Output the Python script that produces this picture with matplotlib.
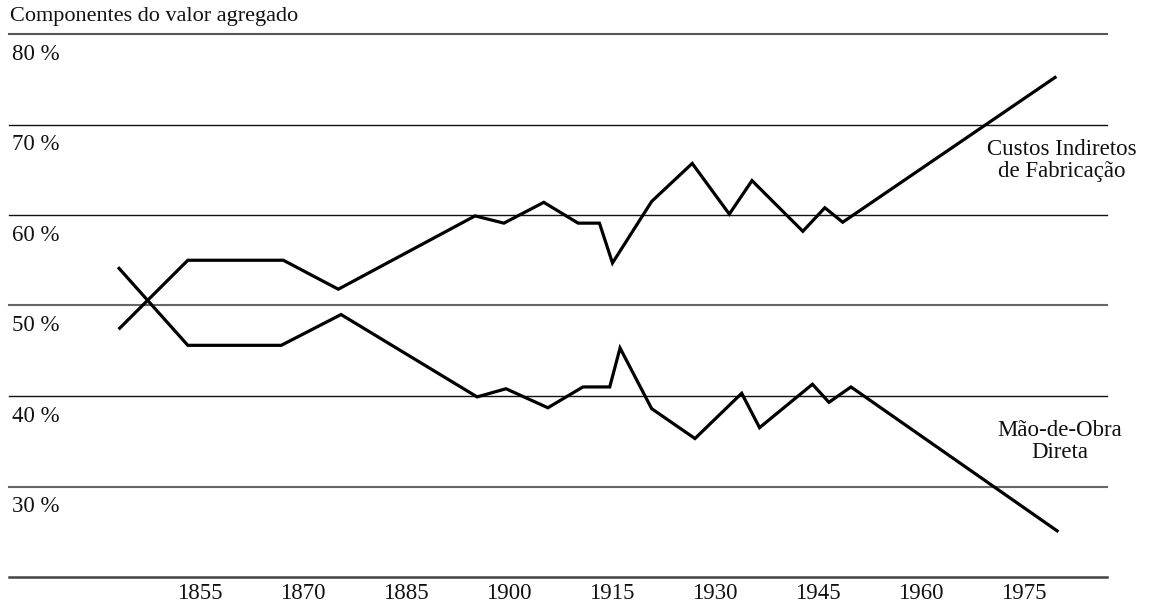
import matplotlib
matplotlib.use("Agg")
import matplotlib.pyplot as plt

# ---- data ----
years_cif = [1843.4, 1853.3, 1867.2, 1875.2, 1895.1, 1899.3, 1905.1, 1910.1, 1913.2,
             1915.1, 1920.8, 1926.7, 1932.1, 1935.4, 1942.8, 1946.0, 1948.6, 1979.5]
cif = [47.5, 55.0, 55.0, 51.8, 59.9, 59.1, 61.4, 59.1, 59.1,
       54.7, 61.5, 65.7, 60.1, 63.8, 58.2, 60.8, 59.2, 75.2]

years_mod = [1843.3, 1853.3, 1866.9, 1875.6, 1895.4, 1899.6, 1905.7, 1910.8, 1914.7,
             1916.2, 1920.8, 1927.1, 1933.9, 1936.5, 1944.2, 1946.6, 1949.8, 1979.8]
mod = [54.1, 45.6, 45.6, 49.0, 39.9, 40.8, 38.7, 41.0, 41.0,
       45.3, 38.6, 35.3, 40.3, 36.5, 41.3, 39.3, 41.0, 25.1]

x_ticks = [1855, 1870, 1885, 1900, 1915, 1930, 1945, 1960, 1975]
y_levels = [80, 70, 60, 50, 40, 30, 20]
y_labels = ["80 %", "70 %", "60 %", "50 %", "40 %", "30 %"]

title = "Componentes do valor agregado"
label_cif = "Custos Indiretos\nde Fabricação"
label_mod = "Mão-de-Obra\nDireta"

# ---- figure ----
W, H = 1154, 605
fig = plt.figure(figsize=(W / 100, H / 100), dpi=100)
plt.rcParams['font.family'] = ['Liberation Serif', 'DejaVu Serif']

left_px, right_px, top_px, bot_px = 9, 1107, 34, 577
ax = fig.add_axes([left_px / W, (H - bot_px) / H, (right_px - left_px) / W, (bot_px - top_px) / H])
ax.set_xlim(1827.28, 1987.06)
ax.set_ylim(20, 80)
for s in ax.spines.values():
    s.set_visible(False)
ax.set_yticks([])

# horizontal rules
line_styles = {80: ('#555555', 1.5), 70: ('#111111', 1.0), 60: ('#111111', 1.0),
               50: ('#666666', 1.5), 40: ('#111111', 1.0), 30: ('#666666', 1.5),
               20: ('#444444', 1.8)}
for v in y_levels:
    c, lw = line_styles[v]
    ax.axhline(v, color=c, lw=lw, clip_on=False, zorder=1)

# y labels, below each rule
for v, lab in zip(y_levels[:-1], y_labels):
    ax.text(1827.28 + 0.5, v - 2.85, lab, fontsize=16.5, va='baseline', ha='left',
            color='#111111')

# x tick labels
ax.set_xticks(x_ticks)
ax.set_xticklabels([str(t) for t in x_ticks], fontsize=16.5, color='#111111')
ax.tick_params(axis='x', length=0, pad=4.5)

# data lines
ax.plot(years_cif, cif, color='black', lw=2.3, solid_joinstyle='miter', zorder=3, clip_on=False)
ax.plot(years_mod, mod, color='black', lw=2.3, solid_joinstyle='miter', zorder=3, clip_on=False)

# series labels
ax.text(1980.5, 66.0, label_cif, fontsize=16.5, ha='center', va='center',
        multialignment='center', linespacing=1.05, color='#111111')
ax.text(1980.2, 35.0, label_mod, fontsize=16.5, ha='center', va='center',
        multialignment='center', linespacing=1.05, color='#111111')

# title
fig.text(10 / W, 1 - 21 / H, title, fontsize=16, ha='left', va='baseline', color='#111111')

fig.savefig('out.png', dpi=100)
